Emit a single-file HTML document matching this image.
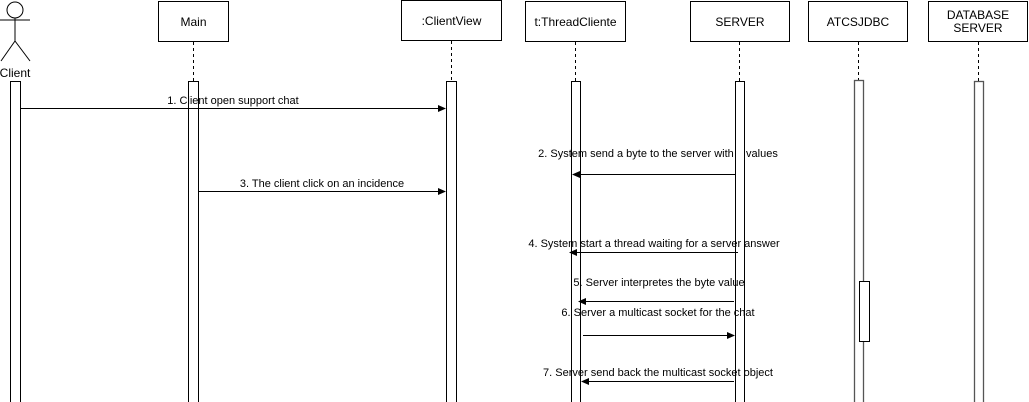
<!DOCTYPE html>
<html><head><style>body{margin:0;background:#fff}svg{display:block}text{font-family:"Liberation Sans",sans-serif;font-size:11px;fill:#000}</style></head>
<body>
<svg width="1029" height="402" viewBox="0 0 1029 402" xmlns="http://www.w3.org/2000/svg">
<defs><marker id="a" markerWidth="8" markerHeight="8" refX="7" refY="4" orient="auto" markerUnits="userSpaceOnUse"><path d="M0,0.5 L8,4 L0,7.5 Z" fill="#000"/></marker></defs>
<g stroke="#000" fill="none">
<circle cx="15" cy="10" r="8"/>
<line x1="15" y1="18" x2="15" y2="41"/>
<line x1="0" y1="20" x2="30" y2="20"/>
<line x1="15" y1="41" x2="1" y2="61"/>
<line x1="15" y1="41" x2="30" y2="61"/>
<rect x="158.5" y="1.5" width="70" height="40" fill="#fff"/>
<rect x="401.5" y="0.5" width="100" height="40" fill="#fff"/>
<rect x="525.5" y="1.5" width="100" height="40" fill="#fff"/>
<rect x="690.5" y="1.5" width="99" height="40" fill="#fff"/>
<rect x="808.5" y="1.5" width="99" height="40" fill="#fff"/>
<rect x="928.5" y="1.5" width="99" height="40" fill="#fff"/>
<g stroke-dasharray="3,3">
<line x1="193.5" y1="42" x2="193.5" y2="81"/>
<line x1="451.5" y1="41" x2="451.5" y2="81"/>
<line x1="575.5" y1="42" x2="575.5" y2="81"/>
<line x1="739.5" y1="42" x2="739.5" y2="81"/>
<line x1="858.5" y1="42" x2="858.5" y2="80"/>
<line x1="978.5" y1="42" x2="978.5" y2="81"/>
</g>
<rect x="10.5" y="81.5" width="10" height="325" fill="#fff"/>
<rect x="188.5" y="81.5" width="10" height="325" fill="#fff"/>
<rect x="446.5" y="81.5" width="10" height="325" fill="#fff"/>
<rect x="571.5" y="81.5" width="9" height="325" fill="#fff"/>
<rect x="735.5" y="81.5" width="9" height="325" fill="#fff"/>
<rect x="854.5" y="80.5" width="9" height="325" fill="#fff" stroke="#555" stroke-width="1.3"/>
<rect x="974.5" y="81.5" width="9" height="325" fill="#fff" stroke="#555" stroke-width="1.3"/>
<rect x="859.5" y="281.5" width="10" height="60" fill="#fff"/>
<line x1="21" y1="108.5" x2="445" y2="108.5" marker-end="url(#a)"/>
<line x1="735" y1="174.5" x2="573" y2="174.5" marker-end="url(#a)"/>
<line x1="199" y1="191.5" x2="445" y2="191.5" marker-end="url(#a)"/>
<line x1="738" y1="252.5" x2="570" y2="252.5" marker-end="url(#a)"/>
<line x1="734" y1="301.5" x2="579" y2="301.5" marker-end="url(#a)"/>
<line x1="583" y1="335.5" x2="734" y2="335.5" marker-end="url(#a)"/>
<line x1="734" y1="381.5" x2="582" y2="381.5" marker-end="url(#a)"/>
</g>
<text x="15" y="77" text-anchor="middle" style="font-size:12px">Client</text>
<text x="193.5" y="26" text-anchor="middle" style="font-size:12px">Main</text>
<text x="451.5" y="25" text-anchor="middle" style="font-size:12px">:ClientView</text>
<text x="575.5" y="26" text-anchor="middle" style="font-size:12px">t:ThreadCliente</text>
<text x="740" y="26" text-anchor="middle" style="font-size:12px">SERVER</text>
<text x="858" y="26" text-anchor="middle" style="font-size:12px">ATCSJDBC</text>
<text x="978" y="19" text-anchor="middle" style="font-size:12px">DATABASE</text>
<text x="978" y="32" text-anchor="middle" style="font-size:12px">SERVER</text>
<text x="233" y="104" text-anchor="middle">1. Client open support chat</text>
<text x="658" y="157" text-anchor="middle">2. System send a byte to the server with <tspan style="fill:#fff">a </tspan>values</text>
<text x="322" y="187" text-anchor="middle">3. The client click on an incidence</text>
<text x="654" y="247" text-anchor="middle">4. System start a thread waiting for a server answer</text>
<text x="659" y="286" text-anchor="middle">5. Server interpretes the byte value</text>
<text x="658" y="316" text-anchor="middle">6. Server a multicast socket for the chat</text>
<text x="658" y="376" text-anchor="middle">7. Server send back the multicast socket object</text>
</svg>
</body></html>
